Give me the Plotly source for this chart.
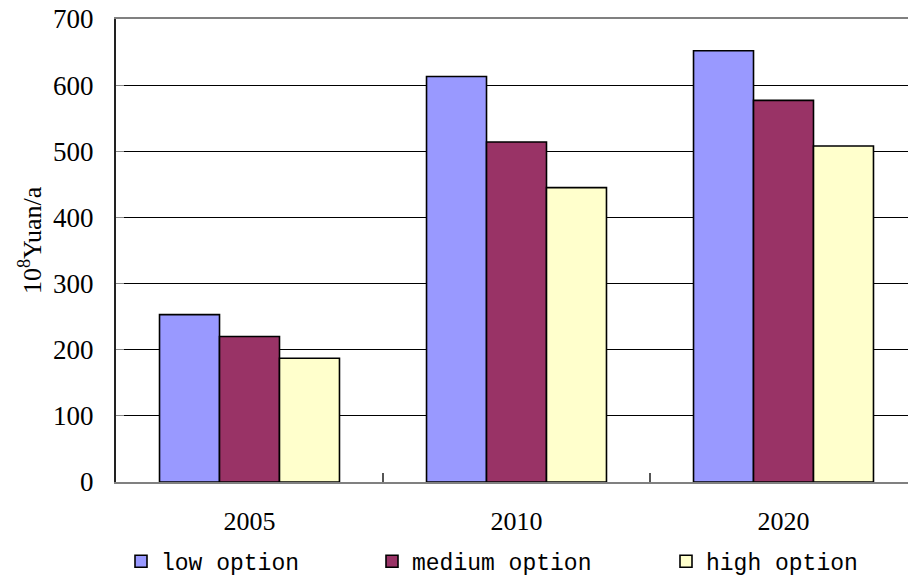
import plotly.graph_objects as go

# Investment demand per scenario (10^8 Yuan per year)
years = ["2005", "2010", "2020"]
low_option = [253, 613, 652]
medium_option = [220, 514, 577]
high_option = [187, 445, 508]
y_ticks = [0, 100, 200, 300, 400, 500, 600, 700]

series = [
    ("low option", low_option, "#9999FF", "legend"),
    ("medium option", medium_option, "#993366", "legend2"),
    ("high option", high_option, "#FFFFCC", "legend3"),
]

W, H = 908, 583
L, T, B = 116, 19, 97
plot_w = W - L
plot_h = H - T - B
cat_px = 267  # width of one category slot

fig = go.Figure()
for name, vals, color, lg in series:
    fig.add_trace(go.Bar(
        name=name, x=years, y=vals, legend=lg, showlegend=True,
        marker=dict(color=color, line=dict(color="#000000", width=1.6)),
    ))

def px_to_paper_x(px):
    return (px - L) / plot_w

def px_to_paper_y(py):
    return (H - B - py) / plot_h

legend_font = dict(family="Liberation Mono", size=23, color="#000000")
legend_y = px_to_paper_y(566)
common_legend = dict(orientation="h", yanchor="middle", xanchor="left",
                     bgcolor="rgba(0,0,0,0)", borderwidth=0, font=legend_font,
                     y=legend_y, visible=True)

fig.update_layout(
    width=W, height=H,
    margin=dict(l=L, r=0, t=T, b=B, pad=0),
    paper_bgcolor="white", plot_bgcolor="white",
    barmode="group", bargap=0.326, bargroupgap=0,
    showlegend=True,
    legend=dict(x=px_to_paper_x(121), **common_legend),
    legend2=dict(x=px_to_paper_x(372), **common_legend),
    legend3=dict(x=px_to_paper_x(666), **common_legend),
    xaxis=dict(
        type="category",
        range=[-0.5, -0.5 + plot_w / cat_px],
        showline=True, linecolor="#808080", linewidth=2, mirror=True,
        ticks="inside", tickson="boundaries", ticklen=9, tickcolor="#555555", tickwidth=2,
        showgrid=False,
        tickfont=dict(family="Liberation Serif", size=26, color="#000000"),
        ticklabelstandoff=15,
    ),
    yaxis=dict(
        range=[0, 700], tickvals=y_ticks,
        showline=True, linecolor="#222222", linewidth=2,
        ticks="inside", ticklen=8, tickcolor="#888888", tickwidth=1,
        showgrid=True, gridcolor="#000000", gridwidth=1,
        zeroline=False,
        tickfont=dict(family="Liberation Serif", size=27, color="#000000"),
        ticklabelstandoff=15,
    ),
)

# Rotated y-axis caption with a superscript exponent
fig.add_annotation(
    text="10<sup>8</sup>Yuan/a", textangle=-90, showarrow=False,
    xref="paper", yref="paper",
    x=px_to_paper_x(30), y=px_to_paper_y(242),
    xanchor="center", yanchor="middle",
    font=dict(family="Liberation Serif", size=26, color="#000000"),
)

fig.write_html("out.html")
